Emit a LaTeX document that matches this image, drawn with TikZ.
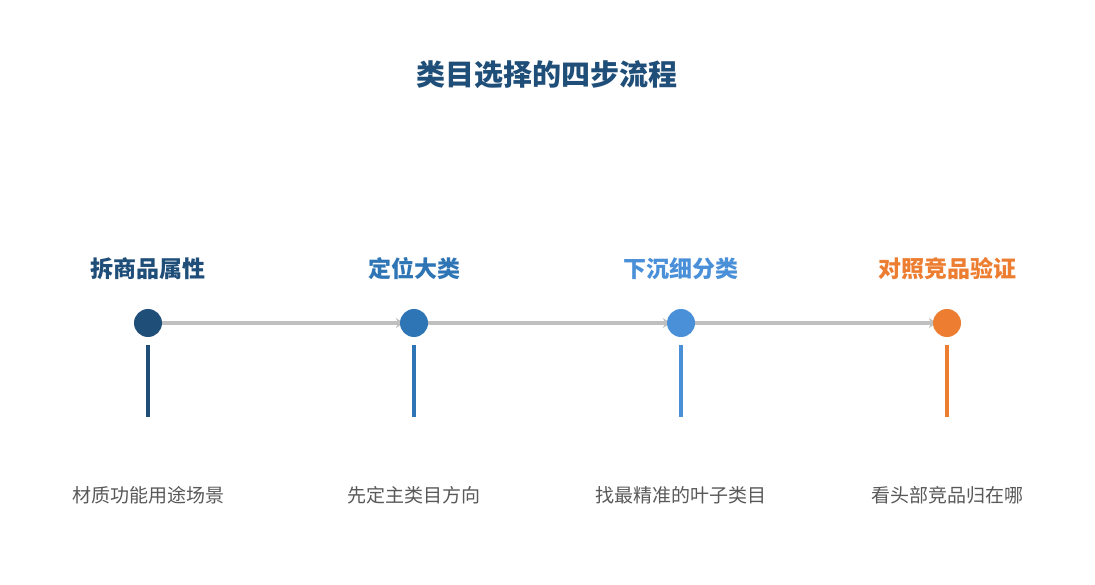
\documentclass[tikz,border=0pt]{standalone}
\usepackage{fontspec}
\newfontfamily\cjk{Noto Sans CJK SC}
\usetikzlibrary{backgrounds,arrows.meta}
\definecolor{c1}{HTML}{1F4E79}
\definecolor{c2}{HTML}{2E75B6}
\definecolor{c3}{HTML}{4A90D9}
\definecolor{c4}{HTML}{ED7D31}
\definecolor{linegray}{HTML}{BFBFBF}
\definecolor{textgray}{HTML}{595959}
\tikzset{
  dot/.style={circle,fill=#1,inner sep=0pt,minimum size=28pt},
  steplabel/.style={text=#1,font=\cjk\bfseries\fontsize{23}{26}\selectfont,inner sep=0pt},
  desc/.style={text=textgray,font=\cjk\fontsize{19}{22}\selectfont,inner sep=0pt},
  bar/.style={draw=#1,line width=4pt},
  flow/.style={draw=linegray,line width=3.6pt,-{Stealth[length=8pt,width=10pt]}},
}
\begin{document}
\begin{tikzpicture}[x=1pt,y=-1pt]
\useasboundingbox (0,0) rectangle (1095,585);
\node[text=c1,font=\cjk\bfseries\fontsize{29}{33}\selectfont,inner sep=0pt] (title) at (547,75) {类目选择的四步流程};
\foreach \i/\x/\col/\lab/\d in {1/148/c1/拆商品属性/材质功能用途场景,2/414/c2/定位大类/先定主类目方向,3/681/c3/下沉细分类/找最精准的叶子类目,4/947/c4/对照竞品验证/看头部竞品归在哪}{
  \node[dot=\col] (n\i) at (\x,323) {};
  \node[steplabel=\col] (l\i) at (\x,269) {\lab};
  \node[desc] (d\i) at (\x,495) {\d};
  \coordinate (bt\i) at (\x,345);
  \coordinate (bb\i) at (\x,417);
  \draw[bar=\col] (bt\i) -- (bb\i);
}
\begin{pgfonlayer}{background}
\fill[white] (0,0) rectangle (1095,585);
\foreach \a/\b in {1/2,2/3,3/4}{
  \draw[flow,shorten >=-4pt] (n\a.east) -- (n\b.west);
}
\end{pgfonlayer}
\end{tikzpicture}
\end{document}
